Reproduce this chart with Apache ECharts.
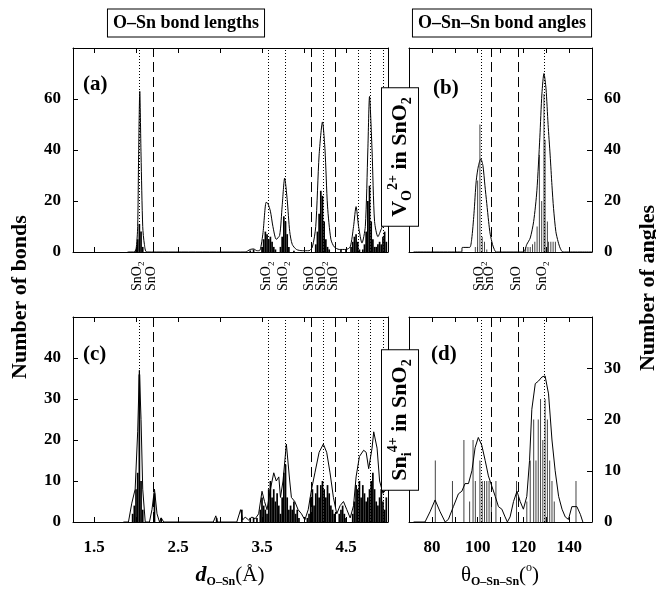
<!DOCTYPE html>
<html><head><meta charset="utf-8">
<script src="https://cdn.jsdelivr.net/npm/echarts@6/dist/echarts.min.js"></script>
<style>html,body{margin:0;padding:0;background:#fff}#c{width:656px;height:593px}</style>
</head><body><div id="c"></div>
<script>
// ---------------- DATA ----------------
// (a) V_O2+ in SnO2 : O-Sn bond lengths
const lenEnvA = [[1.90,0],[1.97,0],[2.00,1],[2.02,10],[2.03,35],[2.045,63],[2.06,38],[2.08,10],[2.10,3],[2.13,0],
  [3.30,0],[3.36,1],[3.40,1.2],[3.44,0.5],[3.47,0.5],[3.51,7],[3.55,19.5],[3.57,19],[3.60,16],[3.63,10],[3.67,5],
  [3.71,6.5],[3.74,18],[3.77,29],[3.80,20.5],[3.83,8],[3.86,3],[3.91,1],[3.98,0.5],[4.06,0.5],[4.10,2],[4.14,10],
  [4.18,38],[4.22,51],[4.25,40],[4.28,18],[4.32,5],[4.36,2],[4.42,1],[4.50,1],[4.55,2],[4.59,10],[4.62,17.8],
  [4.65,10],[4.69,3.5],[4.73,10],[4.76,40],[4.78,61],[4.81,40],[4.84,12],[4.88,6],[4.92,9],[4.96,12],[5.0,10]];
const lenHistA = [[2.00,1],[2.02,5],[2.04,11],[2.06,8],[2.08,2],[3.36,0.6],[3.40,1],
  [3.50,2],[3.52,5],[3.54,8],[3.56,7],[3.58,5],[3.60,6],[3.62,4],[3.64,2],[3.66,1],
  [3.72,2],[3.74,6],[3.76,14],[3.78,12],[3.80,7],[3.82,2],[3.88,0.5],
  [4.14,3],[4.16,8],[4.18,15],[4.20,24],[4.22,22],[4.24,12],[4.26,5],[4.28,2],[4.30,1],
  [4.44,1],[4.50,1],[4.56,2],[4.58,4],[4.60,6],[4.62,7],[4.64,4],[4.66,1],
  [4.70,1],[4.72,3],[4.74,8],[4.76,20],[4.78,26],[4.80,12],[4.82,5],[4.84,2],[4.86,2],[4.88,3],
  [4.90,4],[4.92,3],[4.94,6],[4.96,8],[4.98,4]];
// (b) V_O2+ in SnO2 : O-Sn-Sn bond angles
const angEnvB = [[72,0],[93,0],[93.3,1.8],[96.5,1.8],[97.4,5],[98.4,15],[99.4,28],[100.4,34],[101.4,36.5],[102.3,34],
  [103.2,26],[104,19],[104.8,12],[105.5,7],[106.5,3],[107.3,1],[108.1,0],[120,0],[121.5,3],[123,5.5],[124.5,12],
  [125.9,24],[127.2,45],[128.1,62],[129,70],[129.9,64],[130.8,50],[131.7,38],[132.5,26],[133.2,17],[134.2,8],
  [135.2,4],[136.1,1.5],[137.3,0],[150,0]];
const angImpB = [[99,2],[100,28],[101,50],[102,6],[103,4],[104,1],[121,2],[122,2],[123,2],[124,3],[125,4],
  [126,10],[127,38],[128,20],[129,62],[129.5,44],[130.5,12],[131,4],[132,4],[133,4],[134,4]];
// (c) Sn_i4+ in SnO2 : O-Sn bond lengths
const lenEnvC = [[1.85,0],[1.91,0],[1.95,4.6],[1.99,8],[2.02,22],[2.04,37],[2.06,25],[2.08,8],[2.11,0],[2.16,0],
  [2.19,3],[2.22,8],[2.25,2],[2.28,0],[2.30,1],[2.33,0],[2.92,0],[2.95,1.5],[2.97,0],[3.20,0],[3.245,3],[3.27,0.5],
  [3.30,1.2],[3.34,0.5],[3.38,1.2],[3.42,0.8],[3.46,2],[3.50,7.5],[3.53,5],[3.56,3],[3.60,8],[3.64,12],[3.67,10],
  [3.70,11],[3.72,6],[3.75,10],[3.79,19],[3.83,10],[3.85,6],[3.89,5],[3.93,3],[3.97,2],[4.01,0.5],[4.05,3],
  [4.09,8],[4.13,12],[4.18,17],[4.23,19],[4.27,17],[4.31,12],[4.35,6],[4.39,2],[4.43,4],[4.47,5],[4.51,3],
  [4.55,1],[4.59,4],[4.62,11],[4.66,16],[4.71,17.5],[4.74,17],[4.77,13],[4.81,18],[4.83,22],[4.87,18],[4.90,10],
  [4.94,7],[4.98,8]];
const lenHistC = [[1.96,2],[1.98,4],[2.00,8],[2.02,12],[2.04,36],[2.06,10],[2.08,3],[2.22,7],[2.30,1],[2.96,1],
  [3.26,3],[3.36,1],[3.40,1],[3.44,1],[3.48,3],[3.50,6],[3.52,4],[3.54,3],[3.56,2],[3.58,8],[3.60,10],[3.62,6],
  [3.64,8],[3.66,5],[3.68,7],[3.70,4],[3.72,2],[3.74,6],[3.76,12],[3.78,14],[3.80,6],[3.82,3],[3.84,4],[3.86,3],
  [3.88,5],[3.90,2],[3.92,3],[3.94,1],[4.04,1],[4.06,2],[4.08,6],[4.10,8],[4.12,4],[4.14,7],[4.16,9],[4.18,6],
  [4.20,9],[4.22,10],[4.24,8],[4.26,6],[4.28,9],[4.30,7],[4.32,4],[4.34,3],[4.36,2],[4.42,2],[4.44,3],[4.46,4],
  [4.48,2],[4.50,1],[4.58,2],[4.60,5],[4.62,9],[4.64,8],[4.66,10],[4.68,6],[4.70,9],[4.72,7],[4.74,5],[4.76,6],
  [4.78,8],[4.80,10],[4.82,12],[4.84,8],[4.86,5],[4.88,4],[4.90,6],[4.92,8],[4.94,5],[4.96,3],[4.98,6]];
// (d) Sn_i4+ in SnO2 : O-Sn-Sn bond angles
const angEnvD = [[72,0],[77,0],[79.2,2],[81.4,4.3],[83.6,2],[85.8,0],[87.2,0.5],[89.4,3],[91.6,5.5],[93.1,6],
  [94.5,7.5],[96,7.5],[97.5,10],[98.9,14.5],[100.3,16.5],[101.8,15],[103.3,12],[104.7,9],[106.2,7],[107.7,5],
  [109.1,3],[110.6,2.5],[112,1],[113,0],[114.2,1],[115.7,4],[117.2,6],[118.6,4],[120,2.5],[121.5,5],[122.7,12],
  [123.7,22],[125.2,27],[126.6,27.5],[128.1,28.3],[129.5,28.5],[131,25],[132.5,16],[133.9,10],[135.4,5],
  [136.9,2.5],[138.3,1],[139.7,0.5],[141.2,3],[143.4,3],[144.9,1.5],[146,0]];
const angImpD = [[81.5,12],[89,8],[94,16],[96.5,4],[98,16],[99,8],[101,12],[102,8],[103,8],[104,8],[105,8],
  [106,4],[108,8],[117,8],[121.5,4],[123,12],[124.5,20],[125.5,12],[126.5,20],[127.5,24],[128.5,16],[129.5,24],
  [130.5,20],[131.5,12],[132.5,8],[133.5,4],[143,8]];
// reference lines (crystal values)
const lenRefLines = [[2.04,'SnO2',true],[2.21,'SnO',true],[3.58,'SnO2',true],[3.78,'SnO2',true],[4.09,'SnO',true],
  [4.23,'SnO2',true],[4.37,'SnO',true],[4.64,'SnO2',false],[4.79,'SnO2',false],[4.94,'SnO2',false]];
const angRefLines = [[101.8,'SnO2',true],[105.9,'SnO',true],[117.9,'SnO',true],[129.1,'SnO2',true]];
// axis ticks
const lenTicks = [1.5,2.0,2.5,3.0,3.5,4.0,4.5];
const lenTickLabels = [1.5,2.5,3.5,4.5];
const angTickLabels = [80,100,120,140];
const panelLetters = ['(a)','(b)','(c)','(d)'];

// ---------------- CHART ----------------
const SERIF = '"Liberation Serif","Times New Roman",serif';
const chart = echarts.init(document.getElementById('c'));
const grids = [
  {left:73, top:48, width:315, height:204},
  {left:409, top:48, width:183, height:204},
  {left:73, top:317, width:315, height:205},
  {left:409, top:317, width:183, height:205}
];
const tickLabelStyle = {fontFamily:SERIF, fontWeight:'bold', fontSize:17, color:'#000'};
const xAxes = [], yAxes = [];
grids.forEach((g, gi) => {
  const isLen = gi % 2 === 0;
  const base = isLen ? {min:1.25, max:5.0} : {min:70, max:150, interval:10};
  const tick = isLen ? {inside:true, length:5, customValues:lenTicks, lineStyle:{color:'#000'}}
                     : {inside:true, length:5, lineStyle:{color:'#000'}};
  const showLab = gi >= 2;
  const lab = isLen
    ? {show:showLab, customValues:lenTickLabels, formatter:v=>Number(v).toFixed(1), margin:17, ...tickLabelStyle}
    : {show:showLab, formatter:v=>angTickLabels.includes(v)?String(v):'', margin:17, ...tickLabelStyle};
  xAxes.push(Object.assign({type:'value', gridIndex:gi, position:'bottom', axisLine:{onZero:false, lineStyle:{color:'#000'}},
    axisTick:tick, axisLabel:lab, splitLine:{show:false}}, base));
  xAxes.push(Object.assign({type:'value', gridIndex:gi, position:'top', axisLine:{onZero:false, lineStyle:{color:'#000'}},
    axisTick:tick, axisLabel:{show:false}, splitLine:{show:false}}, base));
  const ymax = gi < 2 ? 80 : (gi === 2 ? 50 : 40);
  const yint = gi < 2 ? 20 : 10;
  const labLeft = isLen;
  const yl = {type:'value', gridIndex:gi, min:0, max:ymax, interval:yint, splitLine:{show:false},
    axisLine:{show:true, onZero:false, lineStyle:{color:'#000'}}, axisTick:{inside:true, length:5, lineStyle:{color:'#000'}}};
  yAxes.push(Object.assign({}, yl, {position:'left', axisLabel:{show:labLeft, margin:12, formatter:v=>v===ymax?'':String(v), ...tickLabelStyle}}));
  yAxes.push(Object.assign({}, yl, {position:'right', axisLabel:{show:!labLeft, margin:12, formatter:v=>v===ymax?'':String(v), ...tickLabelStyle}}));
});

function refMarks(lines) {
  return {silent:true, symbol:['none','none'], animation:false, label:{show:false},
    data: lines.map(l => ({xAxis:l[0], lineStyle:{color:'#000', width:1, type: l[1]==='SnO2' ? [1,2] : [10,5]}}))};
}
const hists = [lenHistA, angImpB, lenHistC, angImpD];
const envs = [lenEnvA, angEnvB, lenEnvC, angEnvD];
const series = [];
grids.forEach((g, gi) => {
  const isLen = gi % 2 === 0;
  series.push({type:'bar', xAxisIndex:2*gi, yAxisIndex:2*gi, data:hists[gi], barWidth: isLen ? 1.7 : 1,
    itemStyle:{color: isLen ? '#000' : '#444'}, animation:false, silent:true});
  series.push({type:'line', xAxisIndex:2*gi, yAxisIndex:2*gi, data:envs[gi], showSymbol:false, symbol:'none',
    smooth: gi < 2 ? 0.25 : false, lineStyle:{color:'#000', width:1}, animation:false, silent:true,
    markLine: refMarks(isLen ? lenRefLines : angRefLines), z:3});
});

chart.setOption({animation:false, backgroundColor:'#fff', grid:grids, xAxis:xAxes, yAxis:yAxes, series:series});

// ---------- text decorations ----------
const sub = {fontFamily:SERIF, fontSize:9, lineHeight:9, verticalAlign:'bottom', fill:'#000'};
const g = [];
function phaseLabel(x, y, phase) {
  const text = phase === 'SnO2' ? '{m|SnO}{s|2}' : '{m|SnO}';
  return {type:'text', x:x, y:y, rotation:Math.PI/2, z:100,
    style:{text:text, align:'left', verticalAlign:'middle',
      rich:{m:{fontFamily:SERIF, fontSize:14, lineHeight:18, fill:'#000'}, s:sub}}};
}
lenRefLines.filter(l=>l[2]).forEach(l => {
  const px = chart.convertToPixel({xAxisIndex:0}, l[0]);
  g.push(phaseLabel(px - 2, 291, l[1]));
});
angRefLines.filter(l=>l[2]).forEach(l => {
  const px = chart.convertToPixel({xAxisIndex:2}, l[0]);
  g.push(phaseLabel(px - 2, 291, l[1]));
});
// panel letters
const letterPos = [[83,85],[433,89],[83,355],[431,355]];
panelLetters.forEach((t,i)=>g.push({type:'text', x:letterPos[i][0], y:letterPos[i][1], z:100,
  style:{text:t, font:'bold 21px '+SERIF, fill:'#000', align:'left', verticalAlign:'middle'}}));
// titles
const boxStyle = {backgroundColor:'#fff', borderColor:'#000', borderWidth:1};
g.push({type:'text', x:186, y:23, z:100, style:Object.assign({text:'O\u2013Sn bond lengths', font:'bold 18px '+SERIF, fill:'#000',
  align:'center', verticalAlign:'middle', padding:[5,5,4,5]}, boxStyle)});
g.push({type:'text', x:502, y:23, z:100, style:Object.assign({text:'O\u2013Sn\u2013Sn bond angles', font:'bold 18px '+SERIF, fill:'#000',
  align:'center', verticalAlign:'middle', padding:[5,5,4,5]}, boxStyle)});
// system labels (rotated boxes)
const richBox = {
  m:{fontFamily:SERIF, fontWeight:'bold', fontSize:22, lineHeight:28, fill:'#000'},
  s:{fontFamily:SERIF, fontWeight:'bold', fontSize:14, lineHeight:13, verticalAlign:'bottom', fill:'#000'},
  p:{fontFamily:SERIF, fontWeight:'bold', fontSize:14, lineHeight:13, verticalAlign:'top', fill:'#000'}
};
g.push({type:'text', x:400, y:157, rotation:Math.PI/2, z:100, style:Object.assign({text:'{m|V}{s|O}{p|2+}{m| in SnO}{s|2}',
  rich:richBox, align:'center', verticalAlign:'middle', padding:[4,9,4,9]}, boxStyle)});
g.push({type:'text', x:400, y:420, rotation:Math.PI/2, z:100, style:Object.assign({text:'{m|Sn}{s|i}{p|4+}{m| in SnO}{s|2}',
  rich:richBox, align:'center', verticalAlign:'middle', padding:[4,9,4,9]}, boxStyle)});
// axis titles
g.push({type:'text', x:20, y:297, rotation:Math.PI/2, z:100, style:{text:'Number of bonds', font:'bold 22px '+SERIF, fill:'#000',
  align:'center', verticalAlign:'middle'}});
g.push({type:'text', x:648, y:288, rotation:Math.PI/2, z:100, style:{text:'Number of angles', font:'bold 22px '+SERIF, fill:'#000',
  align:'center', verticalAlign:'middle'}});
g.push({type:'text', x:230, y:575, z:100, style:{text:'{d|d}{s|O\u2013Sn}{m|(\u00C5)}', align:'center', verticalAlign:'middle',
  rich:{d:{fontFamily:SERIF, fontWeight:'bold', fontStyle:'italic', fontSize:22, lineHeight:26, fill:'#000'},
        s:{fontFamily:SERIF, fontWeight:'bold', fontSize:12, lineHeight:12, verticalAlign:'bottom', fill:'#000'},
        m:{fontFamily:SERIF, fontSize:21, lineHeight:26, fill:'#000'}}}});
g.push({type:'text', x:500, y:575, z:100, style:{text:'{m|\u03B8}{s|O\u2013Sn\u2013Sn}{m|(}{p|o}{m|)}', align:'center', verticalAlign:'middle',
  rich:{m:{fontFamily:SERIF, fontSize:21, lineHeight:26, fill:'#000'},
        s:{fontFamily:SERIF, fontWeight:'bold', fontSize:12, lineHeight:12, verticalAlign:'bottom', fill:'#000'},
        p:{fontFamily:SERIF, fontSize:12, lineHeight:12, verticalAlign:'top', fill:'#000'}}}});
chart.setOption({graphic:g});
</script></body></html>
